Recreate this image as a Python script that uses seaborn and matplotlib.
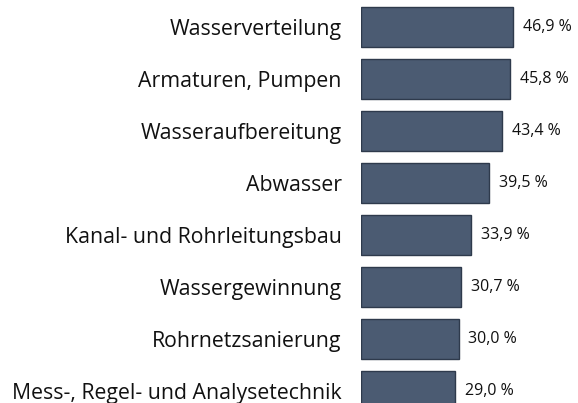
import pandas as pd
import matplotlib.pyplot as plt
import seaborn as sns

sns.set_style("white")
plt.rcParams['font.family'] = ['Open Sans', 'DejaVu Sans']

categories = ["Wasserverteilung", "Armaturen, Pumpen", "Wasseraufbereitung", "Abwasser",
              "Kanal- und Rohrleitungsbau", "Wassergewinnung", "Rohrnetzsanierung",
              "Mess-, Regel- und Analysetechnik"]
values = [46.9, 45.8, 43.4, 39.5, 33.9, 30.7, 30.0, 29.0]

df = pd.DataFrame({"Bereich": categories, "Anteil": values})

fig = plt.figure(figsize=(5.78, 4.03), dpi=100)
ax = fig.add_axes([361 / 578, 0, 195 / 578, 1])

sns.barplot(data=df, x="Anteil", y="Bereich", orient="h", color="#4b5b72",
            saturation=1, width=0.78, edgecolor="#2e3a4c", linewidth=1, ax=ax)

ax.set_xlim(0, 60)
ax.set_ylim(7.23, -0.52)
ax.set_xlabel("")
ax.set_ylabel("")
ax.set_xticks([])
ax.tick_params(axis="y", length=0, pad=14, labelsize=15.3, labelcolor="#111111")
for s in ax.spines.values():
    s.set_visible(False)

for i, v in enumerate(values):
    ax.text(v + 3, i, f"{v:.1f} %".replace(".", ","), va="center", ha="left",
            fontsize=11.5, color="#111111")

fig.savefig("out.png", dpi=100)
